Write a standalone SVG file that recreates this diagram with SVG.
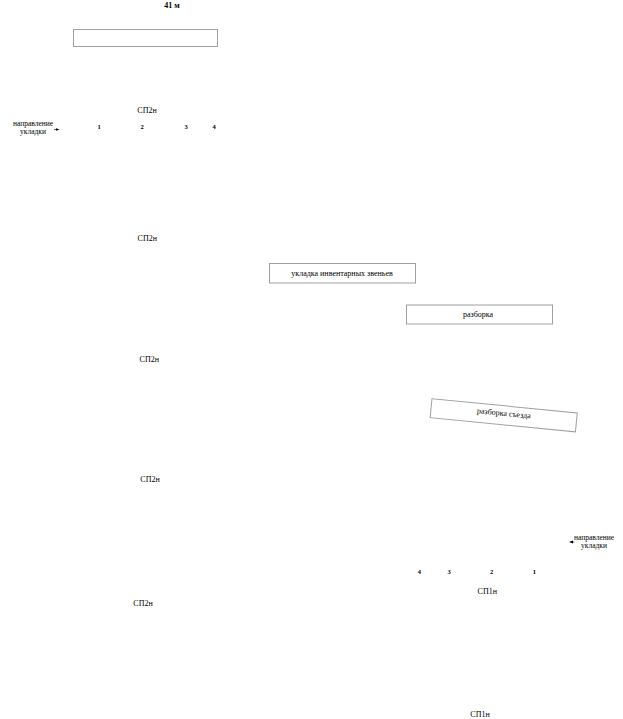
<svg xmlns="http://www.w3.org/2000/svg" width="623" height="719" viewBox="0 0 623 719">
<style>
text{font-family:"Liberation Serif","DejaVu Serif",serif;fill:#000;text-anchor:middle}
.lbl{font-size:8px}
.num{font-size:6.5px;font-weight:bold}
.dir{font-size:7.5px}
.box{fill:#fff;stroke:#a0a0a0;stroke-width:1}
.ttl{font-size:8px;font-weight:bold}
</style>
<defs>
<marker id="ah" markerWidth="4" markerHeight="4" refX="2" refY="2" orient="auto" markerUnits="userSpaceOnUse">
<path d="M0,0.5 L4,2 L0,3.5 z" fill="#000"/>
</marker>
</defs>
<rect width="623" height="719" fill="#fff"/>
<text class="ttl" x="172" y="8">41 м</text>
<g id="top-box"><rect class="box" x="73.5" y="29.5" width="144" height="17"/></g>
<g id="sp2n-1"><text class="lbl" x="147" y="112.5">СП2н</text></g>
<g id="dir-left">
<text class="dir" x="33" y="126">направление</text>
<text class="dir" x="33" y="134">укладки</text>
<path d="M54,129.5 L57.5,129.5" stroke="#000" stroke-width="0.6" fill="none" marker-end="url(#ah)"/>
</g>
<g id="nums-top">
<text class="num" x="99" y="128.5">1</text>
<text class="num" x="142" y="128.5">2</text>
<text class="num" x="186" y="128.5">3</text>
<text class="num" x="214" y="128.5">4</text>
</g>
<g id="sp2n-2"><text class="lbl" x="147.3" y="241">СП2н</text></g>
<g id="ukladka"><rect class="box" x="269.5" y="263.5" width="146" height="19.5"/><text class="lbl" x="342" y="276">укладка инвентарных звеньев</text></g>
<g id="razborka"><rect class="box" x="406.5" y="305" width="146" height="19"/><text class="lbl" x="478" y="317">разборка</text></g>
<g id="sp2n-3"><text class="lbl" x="149.3" y="362">СП2н</text></g>
<g id="razborka-sezda" transform="translate(503.7,415.3) rotate(5.6)">
<rect class="box" x="-73" y="-9.5" width="146" height="19"/>
<text class="lbl" x="0" y="0.5">разборка съезда</text>
</g>
<g id="sp2n-4"><text class="lbl" x="150" y="482">СП2н</text></g>
<g id="dir-right">
<text class="dir" x="594" y="539.5">направление</text>
<text class="dir" x="594" y="548">укладки</text>
<path d="M574.5,542 L571,542" stroke="#000" stroke-width="0.6" fill="none" marker-end="url(#ah)"/>
</g>
<g id="nums-bottom">
<text class="num" x="419.3" y="574">4</text>
<text class="num" x="449" y="574">3</text>
<text class="num" x="491.7" y="574">2</text>
<text class="num" x="534.3" y="574">1</text>
</g>
<g id="sp1n-1"><text class="lbl" x="487.3" y="594">СП1н</text></g>
<g id="sp2n-5"><text class="lbl" x="143" y="606">СП2н</text></g>
<g id="sp1n-2"><text class="lbl" x="480" y="717">СП1н</text></g>
</svg>
